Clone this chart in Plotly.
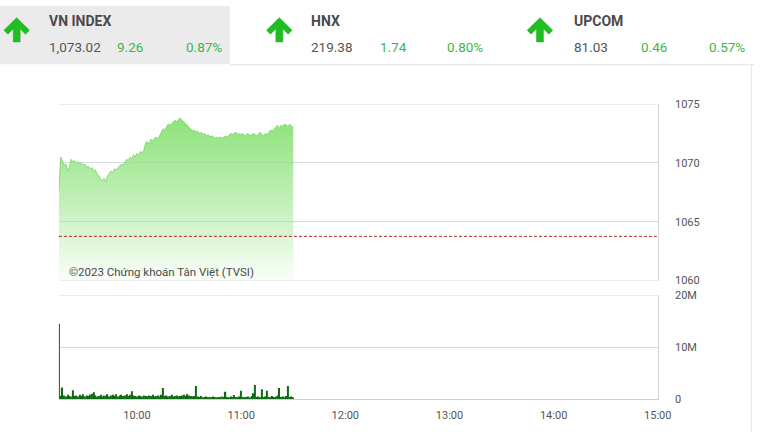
import plotly.graph_objects as go
import pandas as pd

# ---------------- data ----------------
session_date = "2023-06-12"
start_time = "09:15"
end_time = "15:00"

# VN-Index, one value per minute from 09:15 to 11:30
price = [
    1067.7, 1070.5, 1070.2, 1069.8, 1069.9, 1069.3, 1069.6, 1070.3, 1070.1, 1070.2,
    1070.0, 1070.1, 1069.9, 1070.0, 1069.8, 1069.9, 1069.6, 1069.7, 1069.5, 1069.6,
    1069.3, 1069.4, 1069.0, 1068.9, 1068.6, 1068.5, 1068.7, 1068.4, 1068.9, 1069.1,
    1069.3, 1069.2, 1069.5, 1069.4, 1069.6, 1069.7, 1069.9, 1069.8, 1070.1, 1070.3,
    1070.2, 1070.5, 1070.3, 1070.7, 1070.5, 1070.8, 1070.6, 1071.0, 1070.8, 1071.1,
    1071.7, 1071.8, 1071.6, 1072.0, 1071.9, 1072.1, 1072.2, 1072.0, 1072.3, 1072.5,
    1072.9, 1072.8, 1073.1, 1073.3, 1073.2, 1073.4, 1073.5, 1073.6, 1073.5, 1073.7,
    1073.8, 1073.6, 1073.5, 1073.3, 1073.2, 1073.0, 1072.9, 1072.7, 1072.8, 1072.6,
    1072.7, 1072.5, 1072.6, 1072.4, 1072.5, 1072.3, 1072.4, 1072.2, 1072.3, 1072.2,
    1072.1, 1072.2, 1072.1, 1072.2, 1072.1, 1072.2, 1072.3, 1072.2, 1072.4, 1072.5,
    1072.4, 1072.5, 1072.6, 1072.4, 1072.5, 1072.4, 1072.5, 1072.3, 1072.4, 1072.5,
    1072.3, 1072.4, 1072.5, 1072.4, 1072.3, 1072.5, 1072.6, 1072.4, 1072.3, 1072.5,
    1072.4, 1072.6, 1072.8, 1072.7, 1072.9, 1073.0, 1073.2, 1072.9, 1073.2, 1073.1,
    1073.3, 1073.2, 1073.1, 1073.3, 1073.1, 1073.02,
]

# matched volume per minute (millions of shares)
volume_m = [
    14.5, 0.6, 2.2, 0.7, 0.5, 0.8, 0.6, 0.5, 1.7, 0.6,
    0.7, 0.5, 0.8, 0.6, 0.9, 0.5, 0.7, 0.6, 0.8, 1.0,
    1.3, 0.7, 0.5, 0.6, 0.8, 0.5, 0.7, 0.6, 0.9, 0.5,
    0.7, 0.8, 0.6, 0.9, 0.5, 0.7, 0.8, 0.6, 0.7, 0.9,
    0.6, 0.8, 1.5, 0.7, 0.6, 0.5, 0.7, 0.6, 0.5, 0.7,
    0.6, 0.5, 0.7, 0.6, 0.8, 0.5, 0.6, 0.7, 0.5, 0.8,
    2.1, 0.6, 0.7, 0.5, 0.6, 0.8, 0.5, 0.6, 0.7, 0.5,
    0.6, 0.7, 0.8, 0.6, 0.9, 0.7, 0.6, 0.5, 0.6, 2.5,
    0.5, 0.4, 0.6, 0.3, 0.4, 0.5, 0.3, 0.4, 0.3, 0.5,
    0.4, 0.3, 0.4, 0.3, 0.5, 0.4, 1.4, 0.4, 0.3, 0.5,
    0.4, 0.75, 0.4, 0.3, 0.5, 1.6, 0.4, 0.3, 0.4, 0.5,
    0.3, 0.6, 1.1, 2.7, 0.4, 0.5, 0.3, 1.9, 0.4, 0.5,
    1.6, 0.4, 0.3, 0.6, 0.4, 0.5, 0.7, 2.1, 0.4, 0.5,
    0.3, 0.6, 2.5, 0.4, 0.5, 0.3,
]

reference_price = 1063.76

price_ticks = [1060, 1065, 1070, 1075]
volume_ticks = [0, 10_000_000, 20_000_000]
volume_tick_text = ["0", "10M", "20M"]
time_ticks = ["10:00", "11:00", "12:00", "13:00", "14:00", "15:00"]

indices = ["VN INDEX", "HNX", "UPCOM"]
index_values = ["1,073.02", "219.38", "81.03"]
index_changes = ["9.26", "1.74", "0.46"]
index_pcts = ["0.87%", "0.80%", "0.57%"]

copyright_text = "©2023 Chứng khoán Tân Việt (TVSI)"

# ---------------- figure ----------------
W, H = 768, 439
times = pd.date_range(f"{session_date} {start_time}", periods=len(price), freq="min")
volume = [v * 1_000_000 for v in volume_m]


def px(x):
    return x / W


def py(y):
    return 1 - y / H


GREEN_TXT = "#3db54a"
GREY_TXT = "#555555"
ARROW = "#1fbf22"
FONT = "Roboto, Liberation Sans, sans-serif"

fig = go.Figure()

fig.add_trace(go.Scatter(
    x=times, y=price, mode="lines", fill="tozeroy",
    line=dict(color="#86dc73", width=1),
    fillgradient=dict(
        type="vertical", start=1060, stop=1074,
        colorscale=[[0, "rgba(140,226,122,0.04)"], [0.5, "rgba(140,226,122,0.55)"],
                    [1, "rgba(140,226,122,1)"]],
    ),
    xaxis="x", yaxis="y", hoverinfo="skip", showlegend=False,
))

fig.add_trace(go.Bar(
    x=times, y=volume, width=60000 * 0.75,
    marker=dict(color="#0d6a10", line=dict(width=0)),
    xaxis="x2", yaxis="y2", hoverinfo="skip", showlegend=False,
))

x_range = [f"{session_date} {start_time}", f"{session_date} {end_time}"]
x_dom = [px(60), px(670)]

fig.update_layout(
    autosize=True,
    margin=dict(l=0, r=0, t=0, b=0),
    paper_bgcolor="white", plot_bgcolor="white",
    font=dict(family=FONT, size=11, color=GREY_TXT),
    xaxis=dict(domain=x_dom, range=x_range, type="date", anchor="y",
               showticklabels=False, showgrid=False, zeroline=False, showline=False),
    yaxis=dict(domain=[py(283), py(101)], range=[1060, 1075], side="right",
               tickvals=price_ticks, showgrid=True, gridcolor="#dadada", gridwidth=1,
               zeroline=False, showline=True, linecolor="#cdd8e3", linewidth=1,
               ticklabelstandoff=14, tickfont=dict(size=11, color=GREY_TXT),
               anchor="x"),
    xaxis2=dict(domain=x_dom, range=x_range, type="date", anchor="y2",
                tickvals=[f"{session_date} {t}" for t in time_ticks], ticktext=time_ticks,
                showgrid=False, zeroline=False, showline=True, linecolor="#cfcfcf",
                ticks="", ticklabelstandoff=6, tickfont=dict(size=11, color=GREY_TXT)),
    yaxis2=dict(domain=[py(405), py(298)], range=[0, 20_000_000], side="right",
                tickvals=volume_ticks, ticktext=volume_tick_text,
                showgrid=True, gridcolor="#dadada", zeroline=False,
                showline=True, linecolor="#cdd8e3", linewidth=1,
                ticklabelstandoff=14, tickfont=dict(size=11, color=GREY_TXT),
                anchor="x2"),
)

# bottom / top boundary lines of the price panel
for lv in (1060, 1075):
    fig.add_shape(type="line", xref="x", yref="y", x0=x_range[0], x1=x_range[1],
                  y0=lv, y1=lv, line=dict(color="#dadada", width=1))
fig.add_shape(type="line", xref="x2", yref="y2", x0=x_range[0], x1=x_range[1],
              y0=20_000_000, y1=20_000_000, line=dict(color="#dadada", width=1))

# reference (previous close) line
fig.add_shape(type="line", xref="x", yref="y", x0=x_range[0], x1=x_range[1],
              y0=reference_price, y1=reference_price,
              line=dict(color="#b52020", width=1, dash="3px,2px"))

# header background & borders
fig.add_shape(type="rect", xref="paper", yref="paper", x0=0, x1=px(234), y0=py(60), y1=1,
              fillcolor="#ebebeb", line=dict(width=0), layer="below")
fig.add_shape(type="line", xref="paper", yref="paper", x0=px(234), x1=1, y0=py(60.5), y1=py(60.5),
              line=dict(color="#e2e2e2", width=1))
fig.add_shape(type="line", xref="paper", yref="paper", x0=px(765.5), x1=px(765.5), y0=0, y1=py(60.5),
              line=dict(color="#e8e8e8", width=1))

# header blocks
name_x = [48, 315, 583]
val_x = [48, 315, 583]
chg_x = [117, 385, 651]
pct_x = [187, 453, 720]
arrow_cx = [17, 284.5, 550]


def arrow_path(cx):
    pts = [(cx, 12), (cx + 13, 25), (cx + 9, 29), (cx + 3.5, 23.5), (cx + 3.5, 37),
           (cx - 3.5, 37), (cx - 3.5, 23.5), (cx - 9, 29), (cx - 13, 25)]
    s = "M " + " L ".join(f"{px(a):.5f},{py(b):.5f}" for a, b in pts) + " Z"
    return s


for i in range(len(indices)):
    fig.add_shape(type="path", xref="paper", yref="paper", path=arrow_path(arrow_cx[i]),
                  fillcolor=ARROW, line=dict(color="#17a81a", width=0.5))
    fig.add_annotation(x=px(name_x[i]), y=py(15), xref="paper", yref="paper",
                       text=f"<b>{indices[i]}</b>", showarrow=False, xanchor="left", yanchor="middle",
                       font=dict(family=FONT, size=14, color="#4a4a4a"))
    fig.add_annotation(x=px(val_x[i]), y=py(42), xref="paper", yref="paper",
                       text=index_values[i], showarrow=False, xanchor="left", yanchor="middle",
                       font=dict(family=FONT, size=13.5, color=GREY_TXT))
    fig.add_annotation(x=px(chg_x[i]), y=py(42), xref="paper", yref="paper",
                       text=index_changes[i], showarrow=False, xanchor="left", yanchor="middle",
                       font=dict(family=FONT, size=13.5, color=GREEN_TXT))
    fig.add_annotation(x=px(pct_x[i]), y=py(42), xref="paper", yref="paper",
                       text=index_pcts[i], showarrow=False, xanchor="left", yanchor="middle",
                       font=dict(family=FONT, size=13.5, color=GREEN_TXT))

fig.add_annotation(x=px(68), y=py(274), xref="paper", yref="paper", text=copyright_text,
                   showarrow=False, xanchor="left", yanchor="middle",
                   font=dict(family=FONT, size=11.5, color="#4a4a4a"))

page_js = (
    "var d=document.documentElement,b=document.body;"
    "[d,b].forEach(function(e){e.style.margin='0';e.style.padding='0';"
    "e.style.overflow='hidden';e.style.width='100%';e.style.height='100%';});"
    "var g=document.getElementById('{plot_id}');"
    "if(g&&g.parentElement){g.parentElement.style.height='100%';g.parentElement.style.width='100%';}"
    "Plotly.Plots.resize(g);"
)

fig.write_html("out.html", config={"displayModeBar": False, "responsive": True},
               default_width="100%", default_height="100%", post_script=page_js)
